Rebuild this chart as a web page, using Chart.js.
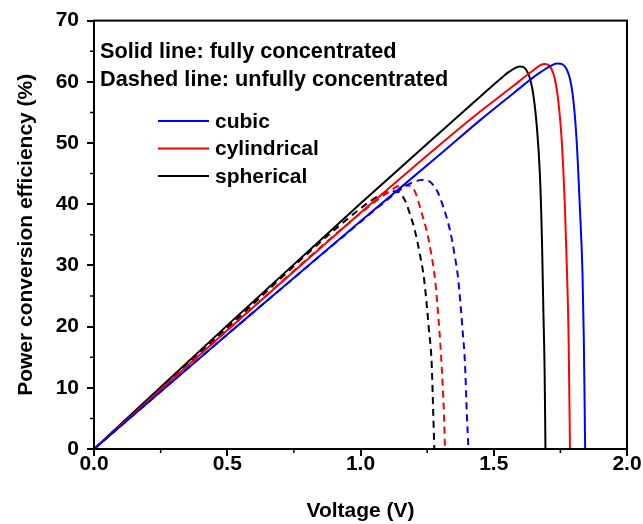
<!DOCTYPE html>
<html>
<head>
<meta charset="utf-8">
<script src="https://cdn.jsdelivr.net/npm/chart.js@4"></script>
<style>
  html, body { margin: 0; padding: 0; background: #fff; }
  #wrap { width: 643px; height: 524px; position: relative; }
</style>
</head>
<body>
<div id="wrap"><canvas id="pce" width="643" height="524"></canvas></div>
<script>
// values: voltage (V) and power conversion efficiency (%)
const cubicFullV   = [0, 0.5, 1.0, 1.3, 1.448, 1.573, 1.68, 1.74, 1.773, 1.796, 1.811, 1.823, 1.833, 1.838, 1.843];
const cubicFullE   = [0, 18.7, 37.2, 48.2, 53.7, 58.1, 61.7, 63.0, 62.1, 58.0, 50.4, 39.5, 28.7, 17.8, 0];
const cylFullV     = [0, 0.5, 1.0, 1.3, 1.448, 1.573, 1.64, 1.69, 1.717, 1.739, 1.755, 1.767, 1.775, 1.781, 1.786];
const cylFullE     = [0, 19.4, 38.6, 49.8, 55.1, 59.3, 61.6, 62.9, 62.1, 58.0, 50.4, 39.5, 28.7, 17.8, 0];
const sphFullV     = [0, 0.5, 1.0, 1.3, 1.45, 1.52, 1.56, 1.598, 1.63, 1.648, 1.661, 1.673, 1.681, 1.686, 1.691, 1.694];
const sphFullE     = [0, 20.2, 40.1, 51.8, 57.6, 60.3, 61.7, 62.5, 61.3, 58.0, 53.0, 45.0, 34.0, 23.0, 12.4, 0];

const cubicPartV   = [0, 0.5, 1.0, 1.1, 1.17, 1.21, 1.242, 1.286, 1.311, 1.336, 1.352, 1.367, 1.383, 1.392, 1.399, 1.405];
const cubicPartE   = [0, 18.7, 37.1, 40.7, 43.0, 43.8, 44.0, 42.3, 39.5, 35.7, 32.0, 27.6, 19.4, 14.0, 5.8, 0];
const cylPartV     = [0, 0.5, 1.0, 1.1, 1.155, 1.186, 1.205, 1.228, 1.248, 1.265, 1.28, 1.296, 1.304, 1.313, 1.317];
const cylPartE     = [0, 19.4, 38.5, 41.8, 43.1, 43.0, 42.0, 38.8, 35.7, 32.0, 27.6, 19.4, 14.0, 5.8, 0];
const sphPartV     = [0, 0.5, 1.0, 1.08, 1.12, 1.142, 1.167, 1.19, 1.204, 1.222, 1.239, 1.257, 1.267, 1.273, 1.277];
const sphPartE     = [0, 19.8, 39.3, 41.6, 42.1, 42.0, 40.6, 37.8, 35.7, 32.0, 27.6, 19.4, 14.0, 5.8, 0];

const shapes = ['cubic', 'cylindrical', 'spherical'];
const notes = ['Solid line: fully concentrated', 'Dashed line: unfully concentrated'];

const FONT = 'Arial, "Liberation Sans", sans-serif';

function pts(xs, ys) {
    return xs.map((x, i) => ({ x, y: ys[i] }));
}

function line(label, color, xs, ys, dashed) {
    return {
        label,
        data: pts(xs, ys),
        borderColor: color,
        backgroundColor: color,
        borderWidth: 2,
        borderDash: dashed ? [7, 5] : [],
        pointRadius: 0,
        cubicInterpolationMode: 'monotone',
        fill: false,
        legendShow: !dashed
    };
}

// frame, minor ticks, notes and legend
const decor = {
    id: 'decor',
    afterDraw(chart) {
        const ctx = chart.ctx;
        const a = chart.chartArea;
        const xs = chart.scales.x, ys = chart.scales.y;
        ctx.save();
        ctx.strokeStyle = '#000';
        ctx.lineWidth = 2;
        ctx.strokeRect(a.left, a.top, a.right - a.left, a.bottom - a.top);

        // minor ticks
        ctx.lineWidth = 1.5;
        ctx.beginPath();
        for (let v = 0.25; v < 2; v += 0.5) {
            const px = xs.getPixelForValue(v);
            ctx.moveTo(px, a.bottom);
            ctx.lineTo(px, a.bottom + 4);
        }
        for (let v = 5; v < 70; v += 10) {
            const py = ys.getPixelForValue(v);
            ctx.moveTo(a.left, py);
            ctx.lineTo(a.left - 4, py);
        }
        ctx.stroke();

        ctx.fillStyle = '#000';
        ctx.font = 'bold 21.7px ' + FONT;
        ctx.textBaseline = 'middle';
        ctx.textAlign = 'left';
        ctx.fillText(notes[0], a.left + 6, 52);
        ctx.fillText(notes[1], a.left + 6, 80);

        ctx.font = 'bold 21px ' + FONT;
        const shown = chart.data.datasets.filter(d => d.legendShow);
        shown.forEach((d, i) => {
            const y = 121 + i * 27.5;
            ctx.strokeStyle = d.borderColor;
            ctx.lineWidth = 2;
            ctx.beginPath();
            ctx.moveTo(158, y);
            ctx.lineTo(209, y);
            ctx.stroke();
            ctx.fillText(d.label, 215, y + 1);
        });
        ctx.restore();
    }
};

new Chart(document.getElementById('pce'), {
    type: 'line',
    data: {
        datasets: [
            line(shapes[0], '#0000ff', cubicFullV, cubicFullE, false),
            line(shapes[1], '#ff0000', cylFullV, cylFullE, false),
            line(shapes[2], '#000000', sphFullV, sphFullE, false),
            line(shapes[0], '#0000ff', cubicPartV, cubicPartE, true),
            line(shapes[1], '#ff0000', cylPartV, cylPartE, true),
            line(shapes[2], '#000000', sphPartV, sphPartE, true)
        ]
    },
    options: {
        responsive: false,
        animation: false,
        layout: { padding: { left: 0, top: 20, right: 16, bottom: 0 } },
        plugins: {
            legend: { display: false },
            tooltip: { enabled: false }
        },
        scales: {
            x: {
                type: 'linear',
                min: 0,
                max: 2,
                afterFit: s => { s.height = 75; },
                ticks: {
                    stepSize: 0.5,
                    callback: v => v.toFixed(1),
                    color: '#000',
                    font: { family: FONT, size: 21, weight: 'bold', lineHeight: 1 },
                    padding: -2,
                    maxRotation: 0
                },
                grid: { drawOnChartArea: false, drawTicks: true, tickLength: 7, color: '#000', lineWidth: 2 },
                border: { display: true, color: '#000', width: 2 },
                title: {
                    display: true,
                    text: 'Voltage (V)',
                    color: '#000',
                    font: { family: FONT, size: 21, weight: 'bold' },
                    padding: { top: 0, bottom: 0 }
                }
            },
            y: {
                min: 0,
                max: 70,
                afterFit: s => { s.width = 94; },
                ticks: {
                    stepSize: 10,
                    color: '#000',
                    font: { family: FONT, size: 21, weight: 'bold' },
                    padding: 8
                },
                grid: { drawOnChartArea: false, drawTicks: true, tickLength: 7, color: '#000', lineWidth: 2 },
                border: { display: true, color: '#000', width: 2 },
                title: {
                    display: true,
                    text: 'Power conversion efficiency (%)',
                    color: '#000',
                    font: { family: FONT, size: 21, weight: 'bold' },
                    padding: { top: 14, bottom: 0 }
                }
            }
        }
    },
    plugins: [decor]
});
</script>
</body>
</html>
